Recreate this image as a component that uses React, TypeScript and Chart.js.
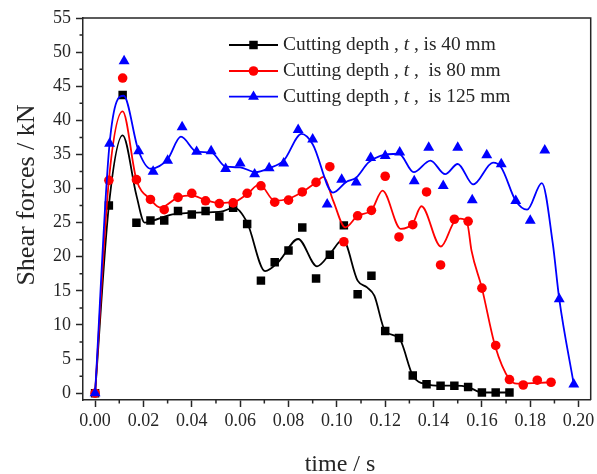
import React, { useEffect, useRef } from 'react';
import { Chart, registerables } from 'chart.js';

Chart.register(...registerables);

// ---------- tick labels ----------
const xTicks = [0, 0.02, 0.04, 0.06, 0.08, 0.1, 0.12, 0.14, 0.16, 0.18, 0.2];
const xMinor = [0.01, 0.03, 0.05, 0.07, 0.09, 0.11, 0.13, 0.15, 0.17, 0.19];
const yTicks = [0, 5, 10, 15, 20, 25, 30, 35, 40, 45, 50, 55];
const yMinor = [2.5, 7.5, 12.5, 17.5, 22.5, 27.5, 32.5, 37.5, 42.5, 47.5, 52.5];

const xTitle = 'time / s';
const yTitle = 'Shear forces / kN';
const legendLabels = [
  'Cutting depth , t , is 40 mm',
  'Cutting depth , t ,  is 80 mm',
  'Cutting depth , t ,  is 125 mm',
];

// ---------- measured points (markers) ----------
const blackT = [0, 0.0057, 0.0114, 0.0171, 0.0229, 0.0286, 0.0343, 0.04, 0.0457, 0.0514, 0.0571, 0.0629, 0.0686, 0.0743, 0.08, 0.0857, 0.0914, 0.0971, 0.1029, 0.1086, 0.1143, 0.12, 0.1257, 0.1314, 0.1371, 0.1429, 0.1486, 0.1543, 0.16, 0.1657, 0.1714];
const blackF = [0, 27.5, 43.7, 25.0, 25.3, 25.3, 26.7, 26.2, 26.7, 25.9, 27.2, 24.8, 16.5, 19.2, 20.9, 24.3, 16.8, 20.3, 24.6, 14.5, 17.2, 9.1, 8.1, 2.6, 1.3, 1.1, 1.1, 0.9, 0.1, 0.1, 0.1];

const redT = [0, 0.0057, 0.0114, 0.0171, 0.0229, 0.0286, 0.0343, 0.04, 0.0457, 0.0514, 0.0571, 0.0629, 0.0686, 0.0743, 0.08, 0.0857, 0.0914, 0.0971, 0.1029, 0.1086, 0.1143, 0.12, 0.1257, 0.1314, 0.1371, 0.1429, 0.1486, 0.1543, 0.16, 0.1657, 0.1714, 0.1771, 0.1829, 0.1886];
const redF = [0, 31.2, 46.2, 31.3, 28.4, 26.9, 28.7, 29.3, 28.2, 27.8, 27.9, 29.3, 30.4, 28.0, 28.3, 29.5, 30.9, 33.2, 22.2, 26.0, 26.8, 31.8, 22.9, 24.7, 29.5, 18.8, 25.5, 25.2, 15.4, 7.0, 2.0, 1.2, 1.9, 1.6];

const blueT = [0, 0.006, 0.012, 0.018, 0.024, 0.03, 0.036, 0.042, 0.048, 0.054, 0.06, 0.066, 0.072, 0.078, 0.084, 0.09, 0.096, 0.102, 0.108, 0.114, 0.12, 0.126, 0.132, 0.138, 0.144, 0.15, 0.156, 0.162, 0.168, 0.174, 0.18, 0.186, 0.192, 0.198];
const blueF = [0, 36.6, 48.7, 35.5, 32.5, 34.1, 39.0, 35.4, 35.5, 32.9, 33.7, 32.1, 33.0, 33.7, 38.6, 37.2, 27.7, 31.3, 30.9, 34.5, 34.8, 35.3, 31.1, 36.0, 30.4, 36.0, 28.3, 34.9, 33.6, 28.2, 25.3, 35.6, 13.8, 1.3];

// ---------- smoothed fit curves ----------
const blackFitT = [0, 0.0057, 0.0114, 0.0171, 0.0205, 0.024, 0.032, 0.045, 0.052, 0.0575, 0.0629, 0.0703, 0.076, 0.084, 0.0918, 0.0975, 0.1025, 0.1086, 0.1125, 0.1155, 0.12, 0.1257, 0.1314, 0.1371, 0.1429, 0.1486, 0.1543, 0.16, 0.1657, 0.1714];
const blackFitF = [0, 27.5, 37.8, 29.0, 25.0, 25.3, 26.2, 26.5, 26.6, 27.2, 25.0, 17.9, 19.3, 22.6, 18.6, 20.6, 22.5, 16.5, 15.5, 14.3, 9.1, 8.1, 2.6, 1.3, 1.1, 1.1, 0.9, 0.1, 0.1, 0.1];

const redFitT = [0, 0.0057, 0.0114, 0.0171, 0.0229, 0.027, 0.0343, 0.04, 0.0457, 0.0514, 0.0571, 0.0629, 0.068, 0.0743, 0.08, 0.0857, 0.0914, 0.0945, 0.0985, 0.1035, 0.1086, 0.1143, 0.1189, 0.1264, 0.1314, 0.135, 0.143, 0.1485, 0.151, 0.154, 0.1557, 0.16, 0.1654, 0.1714, 0.1745, 0.1886];
const redFitF = [0, 31.2, 41.3, 31.3, 28.4, 27.2, 28.7, 29.0, 28.3, 27.9, 28.0, 29.2, 30.6, 28.2, 28.5, 29.5, 30.9, 31.7, 28.2, 24.3, 26.0, 26.8, 29.7, 24.1, 24.9, 27.4, 21.5, 25.1, 25.6, 24.8, 20.9, 15.4, 7.0, 2.0, 1.4, 1.6];

const blueFitT = [0, 0.006, 0.0118, 0.018, 0.023, 0.03, 0.0355, 0.042, 0.048, 0.054, 0.06, 0.0663, 0.072, 0.078, 0.0854, 0.09, 0.0984, 0.104, 0.108, 0.113, 0.118, 0.1257, 0.1318, 0.1387, 0.1448, 0.15, 0.1564, 0.1646, 0.168, 0.174, 0.1787, 0.1848, 0.1893, 0.192, 0.198];
const blueFitF = [0, 36.6, 43.6, 35.5, 32.9, 34.3, 37.6, 35.4, 35.3, 33.2, 33.1, 32.4, 33.0, 34.1, 38.0, 36.5, 29.4, 31.0, 31.6, 33.8, 34.8, 35.1, 32.4, 34.1, 32.1, 33.6, 30.6, 33.8, 33.1, 28.2, 26.9, 30.8, 22.0, 13.8, 1.3];

// ---------- styles ----------
const FONT = '"Liberation Serif", "Times New Roman", serif';
const AXIS = '#262626';
const TEXT = '#262626';
const BLACK = '#000000';
const RED = '#ff0000';
const BLUE = '#0000ff';

const pts = (xs: number[], ys: number[]) => xs.map((x, i) => ({ x, y: ys[i] }));

function drawMarker(ctx: CanvasRenderingContext2D, style: string, x: number, y: number, r: number, color: string) {
  ctx.fillStyle = color;
  ctx.beginPath();
  if (style === 'rect') {
    const s = r * Math.SQRT1_2;
    ctx.rect(x - s, y - s, 2 * s, 2 * s);
  } else if (style === 'circle') {
    ctx.arc(x, y, r, 0, Math.PI * 2);
  } else {
    ctx.moveTo(x, y - r);
    ctx.lineTo(x + r * Math.sin(Math.PI * 2 / 3), y - r * Math.cos(Math.PI * 2 / 3));
    ctx.lineTo(x + r * Math.sin(Math.PI * 4 / 3), y - r * Math.cos(Math.PI * 4 / 3));
    ctx.closePath();
  }
  ctx.fill();
}

const legendStyles = [
  { color: BLACK, style: 'rect', r: 6 },
  { color: RED, style: 'circle', r: 4.8 },
  { color: BLUE, style: 'triangle', r: 6.3 },
];

const overlayPlugin = {
  id: 'overlay',
  afterDraw(chart: any) {
    const { ctx, chartArea } = chart;
    const { left, right, top, bottom } = chartArea;
    const xs = chart.scales.x;
    const ys = chart.scales.y;
    ctx.save();
    // frame top / right
    ctx.strokeStyle = AXIS;
    ctx.lineWidth = 1.5;
    ctx.beginPath();
    ctx.moveTo(left, top);
    ctx.lineTo(right, top);
    ctx.lineTo(right, bottom);
    ctx.stroke();
    // minor ticks
    ctx.beginPath();
    xMinor.forEach((v) => {
      const p = xs.getPixelForValue(v);
      ctx.moveTo(p, bottom);
      ctx.lineTo(p, bottom + 3.5);
    });
    yMinor.forEach((v) => {
      const p = ys.getPixelForValue(v);
      ctx.moveTo(left, p);
      ctx.lineTo(left - 3.5, p);
    });
    ctx.stroke();

    // axis titles
    ctx.fillStyle = TEXT;
    ctx.textAlign = 'center';
    ctx.textBaseline = 'alphabetic';
    ctx.font = `24px ${FONT}`;
    ctx.fillText(xTitle, 340, 471);
    ctx.save();
    ctx.translate(34, 195);
    ctx.rotate(-Math.PI / 2);
    ctx.font = `26px ${FONT}`;
    ctx.fillText(yTitle, 0, 0);
    ctx.restore();

    // legend
    const rowY = [45, 71, 96.7];
    const fs = 19.4;
    legendLabels.forEach((label, i) => {
      const y = rowY[i];
      const st = legendStyles[i];
      ctx.strokeStyle = st.color;
      ctx.lineWidth = 1.8;
      ctx.beginPath();
      ctx.moveTo(229, y);
      ctx.lineTo(278, y);
      ctx.stroke();
      drawMarker(ctx, st.style, 253.5, y, st.r, st.color);
      const idx = label.indexOf(' t ');
      const pre = label.slice(0, idx + 1);
      const it = 't';
      const post = label.slice(idx + 2);
      ctx.fillStyle = TEXT;
      ctx.textAlign = 'left';
      ctx.textBaseline = 'middle';
      let x = 283;
      ctx.font = `${fs}px ${FONT}`;
      ctx.fillText(pre, x, y);
      x += ctx.measureText(pre).width;
      ctx.font = `italic ${fs}px ${FONT}`;
      ctx.fillText(it, x, y);
      x += ctx.measureText(it).width;
      ctx.font = `${fs}px ${FONT}`;
      ctx.fillText(post, x, y);
    });
    ctx.restore();
  },
};

export default function App() {
  const ref = useRef<HTMLCanvasElement | null>(null);
  useEffect(() => {
    if (!ref.current) return;
    const markerDs = (label: string, xs: number[], ys: number[], color: string, style: string, r: number, order: number) => ({
      label,
      data: pts(xs, ys),
      showLine: false,
      pointStyle: style,
      pointRadius: r,
      pointBorderWidth: 0,
      pointBackgroundColor: color,
      pointBorderColor: color,
      order,
    });
    const fitDs = (label: string, xs: number[], ys: number[], color: string, order: number) => ({
      label,
      data: pts(xs, ys),
      showLine: true,
      pointRadius: 0,
      borderColor: color,
      borderWidth: 1.8,
      cubicInterpolationMode: 'monotone',
      fill: false,
      order,
    });
    const chart = new Chart(ref.current, {
      type: 'scatter',
      data: {
        datasets: [
          markerDs('blue', blueT, blueF, BLUE, 'triangle', 6.3, 0),
          fitDs('blue fit', blueFitT, blueFitF, BLUE, 1),
          markerDs('red', redT, redF, RED, 'circle', 4.8, 2),
          fitDs('red fit', redFitT, redFitF, RED, 3),
          markerDs('black', blackT, blackF, BLACK, 'rect', 6, 4),
          fitDs('black fit', blackFitT, blackFitF, BLACK, 5),
        ] as any,
      },
      options: {
        responsive: false,
        animation: false,
        devicePixelRatio: 1,
        layout: { padding: { top: 18, right: 2, left: 0, bottom: 0 } },
        plugins: { legend: { display: false }, tooltip: { enabled: false }, title: { display: false } },
        scales: {
          x: {
            type: 'linear',
            min: -0.005,
            max: 0.205,
            afterBuildTicks: (s: any) => {
              s.ticks = xTicks.map((v) => ({ value: v }));
            },
            afterFit: (s: any) => {
              s.height = 74;
              s.paddingLeft = 0;
              s.paddingRight = 0;
            },
            ticks: {
              autoSkip: false,
              maxRotation: 0,
              padding: 3,
              color: TEXT,
              font: { family: FONT, size: 18 },
              callback: (v: any) => Number(v).toFixed(2),
            },
            grid: { drawOnChartArea: false, drawTicks: true, tickLength: 7, tickColor: AXIS, tickWidth: 1.5 },
            border: { display: true, color: AXIS, width: 1.5 },
          },
          y: {
            type: 'linear',
            min: -1,
            max: 55,
            afterBuildTicks: (s: any) => {
              s.ticks = yTicks.map((v) => ({ value: v }));
            },
            afterFit: (s: any) => {
              s.width = 83;
              s.paddingTop = 0;
              s.paddingBottom = 0;
            },
            ticks: {
              autoSkip: false,
              padding: 5,
              color: TEXT,
              font: { family: FONT, size: 18 },
              callback: (v: any) => String(v),
            },
            grid: { drawOnChartArea: false, drawTicks: true, tickLength: 7, tickColor: AXIS, tickWidth: 1.5 },
            border: { display: true, color: AXIS, width: 1.5 },
          },
        },
      } as any,
      plugins: [overlayPlugin],
    });
    return () => chart.destroy();
  }, []);
  return (
    <div style={{ position: 'absolute', left: 0, top: 0, width: 597, height: 474, background: '#fff' }}>
      <canvas ref={ref} width={597} height={474} style={{ display: 'block', width: 597, height: 474 }} />
    </div>
  );
}
